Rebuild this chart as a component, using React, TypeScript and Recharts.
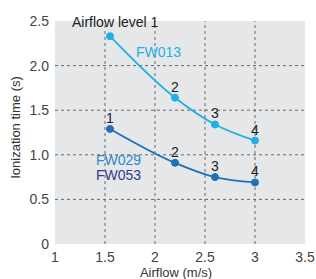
import React from "react";
import { LineChart, Line, XAxis, YAxis, CartesianGrid, ReferenceLine, LabelList } from "recharts";

const airflow = [1.55, 2.2, 2.6, 3.0];
const fw013 = [2.33, 1.64, 1.34, 1.16];
const fw029 = [1.29, 0.91, 0.75, 0.69];
const topLevels = ["", "2", "3", "4"];
const bottomLevels = ["1", "2", "3", "4"];
const xTicks = [1, 1.5, 2, 2.5, 3, 3.5];
const yTicks = [0, 0.5, 1, 1.5, 2, 2.5];
const xGrid = [1.5, 2, 2.5, 3];
const yGrid = [0.5, 1, 1.5, 2];

const topData = airflow.map((x, i) => ({ x, y: fw013[i], level: topLevels[i] }));
const bottomData = airflow.map((x, i) => ({ x, y: fw029[i], level: bottomLevels[i] }));

const FONT = "'Liberation Sans', Arial, sans-serif";
const tickStyle = { fontSize: 14, fill: "#444", fontFamily: FONT };
const titleStyle = { fontSize: 13, fill: "#333", fontFamily: FONT };

const note = (left: number, top: number, color: string): React.CSSProperties => ({
  position: "absolute",
  left,
  top,
  fontSize: 14,
  lineHeight: "14px",
  fontFamily: FONT,
  color,
  whiteSpace: "nowrap",
});

export default function App() {
  return (
    <div style={{ position: "absolute", left: 0, top: 0, width: 316, height: 279, background: "#fff" }}>
      <LineChart width={316} height={279} margin={{ top: 21, right: 11, bottom: 0, left: 0 }}>
        <CartesianGrid fill="#e6e7e9" stroke="none" />
        <XAxis
          type="number"
          dataKey="x"
          domain={[1, 3.5]}
          ticks={xTicks}
          axisLine={false}
          tickLine={false}
          height={35}
          tick={tickStyle}
          label={{ value: "Airflow (m/s)", position: "insideBottom", offset: 2, dx: -4, style: titleStyle }}
        />
        <YAxis
          type="number"
          dataKey="y"
          domain={[0, 2.5]}
          ticks={yTicks}
          axisLine={false}
          tickLine={false}
          tickMargin={0}
          width={55}
          tick={tickStyle}
          tickFormatter={(v: number) => (v === 0 ? "0" : v.toFixed(1))}
          label={{ value: "Ionization time (s)", angle: -90, position: "center", dx: -12, dy: -5, style: titleStyle }}
        />
        {xGrid.map((v) => (
          <ReferenceLine key={"x" + v} x={v} stroke="#666" strokeDasharray="3 3" />
        ))}
        {yGrid.map((v) => (
          <ReferenceLine key={"y" + v} y={v} stroke="#666" strokeDasharray="3 3" />
        ))}
        <Line
          data={topData}
          dataKey="y"
          type="monotone"
          stroke="#1fb0e8"
          strokeWidth={1.8}
          dot={{ r: 3.5, fill: "#1fb0e8", stroke: "#1fb0e8", strokeWidth: 1 }}
          isAnimationActive={false}
        >
          <LabelList dataKey="level" position="top" offset={6} style={{ fontSize: 14, fill: "#222", fontFamily: FONT }} />
        </Line>
        <Line
          data={bottomData}
          dataKey="y"
          type="monotone"
          stroke="#1c72ba"
          strokeWidth={1.8}
          dot={{ r: 3.5, fill: "#1c72ba", stroke: "#1c72ba", strokeWidth: 1 }}
          isAnimationActive={false}
        >
          <LabelList dataKey="level" position="top" offset={6} style={{ fontSize: 14, fill: "#222", fontFamily: FONT }} />
        </Line>
      </LineChart>
      <div style={note(72, 15, "#222")}>Airflow level 1</div>
      <div style={note(136, 45, "#1fb0e8")}>FW013</div>
      <div style={note(96, 153, "#2e88c8")}>FW029</div>
      <div style={note(96, 168, "#2e3b8c")}>FW053</div>
    </div>
  );
}
